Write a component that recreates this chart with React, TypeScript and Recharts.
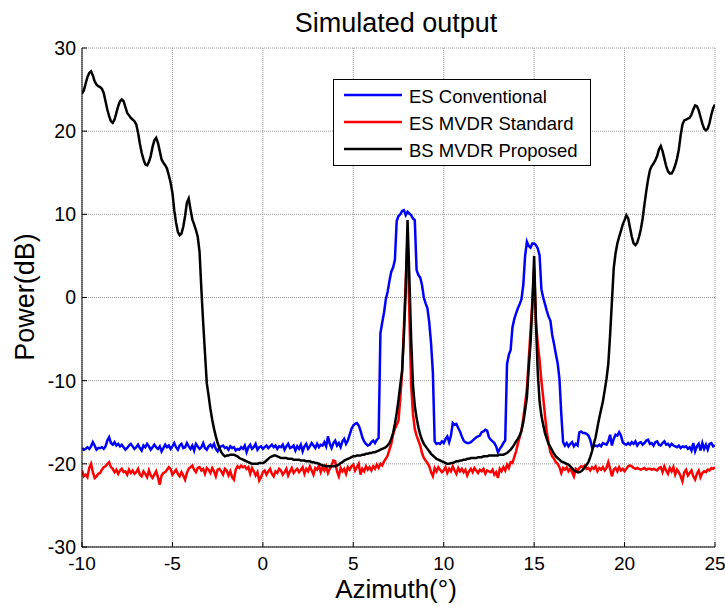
import React from 'react';
import { LineChart, Line, XAxis, YAxis, CartesianGrid, Legend } from 'recharts';

// Azimuth sampling: -10 .. 25 deg, 0.1 deg step (351 samples)
const AZ_START = -10;
const AZ_STEP = 0.1;

const xTicks = [-10, -5, 0, 5, 10, 15, 20, 25];
const yTicks = [-30, -20, -10, 0, 10, 20, 30];

const seriesNames = ['ES Conventional', 'ES MVDR Standard', 'BS MVDR Proposed'];

// ES Conventional (blue)
const esConventional = [
  -18.1, -18.3, -18.2, -18.0, -18.2, -17.9, -17.4, -17.8, -18.3, -18.1,
  -18.1, -18.0, -18.2, -17.9, -17.2, -16.8, -17.5, -17.7, -17.4, -17.8,
  -17.6, -17.9, -17.7, -18.0, -18.3, -18.1, -17.8, -17.6, -17.9, -18.2,
  -18.0, -17.7, -18.1, -18.4, -17.8, -18.0, -17.6, -17.9, -18.3, -18.0,
  -17.7, -18.0, -18.2, -17.9, -18.5, -18.1, -17.7, -18.0, -17.8, -18.2,
  -17.9, -17.5, -18.0, -18.3, -17.8, -17.6, -18.1, -18.0, -17.5, -17.9,
  -18.2, -17.8, -18.4, -17.6, -17.9, -18.2, -18.0, -17.5, -18.1, -18.3,
  -17.9, -17.7, -18.0, -17.6, -18.2, -18.5, -18.0, -17.9, -17.8, -18.1,
  -18.0, -18.3, -17.9, -18.1, -18.0, -18.4, -18.2, -18.3, -18.0, -18.2,
  -17.8, -18.6, -18.0, -17.7, -18.2, -18.0, -17.6, -18.3, -18.0, -17.9,
  -18.2, -18.0, -17.8, -18.1, -17.9, -17.7, -18.0, -17.8, -18.2, -17.9,
  -18.0, -17.7, -18.3, -17.9, -17.6, -18.1, -18.0, -17.8, -18.4, -17.9,
  -18.2, -17.7, -18.5, -17.9, -17.6, -18.2, -17.9, -17.5, -17.8, -18.1,
  -17.6, -18.0, -17.7, -17.8, -17.4, -17.9, -16.7, -17.6, -18.1, -17.5,
  -17.2, -17.8, -17.5, -18.0, -17.3, -17.0, -17.6, -17.2, -16.5, -15.8,
  -15.4, -15.2, -15.1, -15.4, -16.0, -16.8, -17.3, -17.6, -17.8, -17.7,
  -17.4, -17.2, -17.5, -17.1, -16.9, -4.3, -3.0, -1.8, -0.2, 0.7,
  2.0, 3.1, 3.6, 4.5, 9.2, 9.8, 10.0, 10.4, 10.5, 9.9,
  10.3, 10.1, 9.9, 9.5, 9.3, 3.3, 2.7, 2.4, 1.5, 0.0,
  -0.7, -1.3, -3.0, -5.5, -9.0, -17.3, -17.6, -17.5, -17.6, -17.3,
  -17.5, -17.0, -16.7, -17.4, -16.6, -15.1, -15.3, -15.2, -15.7, -16.1,
  -16.7, -17.2, -17.4, -17.5, -17.5, -17.4, -17.2, -17.0, -16.8, -16.7,
  -16.6, -16.2, -16.1, -15.9, -16.0, -16.8, -17.1, -17.3, -17.5, -17.9,
  -18.6, -18.2, -17.9, -17.5, -17.2, -8.0, -6.9, -6.3, -3.6, -2.6,
  -1.9, -1.3, -0.8, -0.2, 1.5, 5.0, 6.7, 6.2, 6.0, 6.5,
  6.5, 6.3, 5.9, 5.1, 1.0, 0.0, -0.8, -1.6, -2.3, -2.8,
  -4.5, -5.6, -6.8, -7.9, -9.8, -14.0, -17.4, -17.8, -17.5, -17.9,
  -17.6, -17.4, -17.9, -17.6, -17.8, -16.2, -16.1, -16.3, -16.3, -16.4,
  -16.6, -17.1, -18.0, -17.9, -17.8, -17.9, -17.7, -17.9, -17.5, -17.6,
  -17.7, -17.3, -16.5, -17.8, -17.0, -16.5, -16.6, -16.2, -16.6, -17.4,
  -17.6, -17.7, -17.5, -17.7, -17.4, -17.6, -17.3, -17.8, -17.5, -17.4,
  -17.7, -17.5, -17.2, -17.1, -17.6, -17.5, -17.8, -17.4, -17.3, -17.7,
  -17.8, -17.5, -17.3, -17.7, -17.6, -17.9, -17.6, -17.8, -17.9, -18.0,
  -17.8, -18.1, -17.9, -18.0, -17.9, -18.2, -18.0, -18.4, -17.5, -18.5,
  -17.9, -17.6, -18.4, -17.5, -18.2, -17.7, -18.3, -17.6, -17.5, -17.9,
  -17.8,
];

// ES MVDR Standard (red)
const esMvdrStandard = [
  -20.8, -21.5, -21.3, -21.6, -20.5, -20.0, -21.0, -21.7, -21.5, -21.2,
  -21.1, -20.7, -20.4, -20.3, -20.0, -19.8, -20.4, -20.6, -21.0, -20.7,
  -21.2, -20.8, -20.6, -21.0, -20.9, -21.3, -20.7, -21.1, -20.8, -21.2,
  -21.0, -20.6, -21.3, -21.5, -20.9, -21.2, -21.6, -20.8, -21.4, -21.7,
  -21.3, -20.9, -21.6, -22.5, -21.4, -21.1, -21.0, -20.7, -20.4, -20.6,
  -21.3, -21.0, -20.7, -21.2, -21.5, -21.0, -21.4, -21.9, -21.1, -20.6,
  -20.4, -20.2, -20.7, -21.0, -20.5, -20.4, -20.8, -20.6, -21.2, -20.5,
  -20.7, -21.1, -20.5, -20.9, -21.5, -20.7, -20.6, -20.9, -21.3, -20.6,
  -20.8, -21.4, -20.9, -21.6, -21.9, -20.7, -20.3, -20.5, -20.2, -20.4,
  -20.3, -20.6, -20.4, -21.2, -20.5, -20.9, -21.4, -21.0, -22.0, -21.6,
  -21.0, -20.8, -21.3, -20.9, -20.6, -21.2, -21.5, -20.9, -21.1, -20.6,
  -20.8, -21.3, -21.0, -20.6, -21.4, -20.9, -20.5, -21.1, -20.8, -20.6,
  -21.0, -20.7, -20.4, -21.2, -20.6, -20.9, -20.3, -20.8, -21.3, -20.5,
  -20.7, -20.2, -21.0, -20.4, -20.8, -20.3, -21.1, -20.6, -20.2, -19.6,
  -19.7, -20.9, -21.5, -20.5, -20.9, -20.6, -21.2, -20.4, -20.7, -20.3,
  -20.1, -20.8, -20.4, -20.0, -21.3, -20.6, -20.9, -20.3, -20.7, -20.4,
  -20.8, -20.3, -20.6, -20.1, -20.5, -20.0, -20.2, -19.7, -19.4, -19.0,
  -18.3, -17.6, -16.5, -15.8, -15.3, -14.8, -12.0, -9.0, -3.5, 2.0,
  7.3, -2.0, -10.5, -14.0, -15.8, -16.6, -17.2, -17.8, -18.7, -19.3,
  -19.6, -19.9, -20.3, -21.0, -21.5, -20.5, -20.9, -20.4, -20.7, -21.0,
  -20.8, -20.4, -21.1, -20.6, -20.9, -20.3, -20.8, -21.2, -20.5, -20.9,
  -20.6, -21.0, -20.7, -21.4, -20.9, -20.6, -21.0, -20.5, -20.8, -21.1,
  -20.7, -20.9, -20.6, -21.2, -20.8, -20.9, -21.0, -20.7, -21.3, -21.0,
  -21.7, -20.6, -20.9, -20.4, -20.8, -20.1, -20.5, -19.8, -19.9, -19.2,
  -18.5, -17.6, -16.8, -16.0, -14.5, -12.8, -11.0, -7.5, -4.0, -0.5,
  3.5, -3.0, -5.5, -7.5, -10.0, -12.0, -14.2, -16.2, -17.5, -18.6,
  -19.1, -19.4, -19.8, -20.0, -20.4, -21.1, -20.5, -20.7, -20.4, -20.9,
  -20.6, -21.0, -21.5, -20.6, -20.8, -20.5, -20.3, -20.4, -20.2, -20.6,
  -20.5, -20.8, -20.4, -20.6, -20.3, -20.9, -20.5, -20.7, -20.4, -20.8,
  -20.5, -19.8, -20.6, -21.5, -20.7, -20.5, -20.9, -20.4, -20.8, -20.6,
  -20.9, -20.6, -20.3, -20.2, -20.3, -20.5, -20.6, -20.5, -20.6, -20.7,
  -20.6, -20.5, -20.7, -20.6, -20.6, -20.7, -20.6, -20.7, -20.8, -20.5,
  -20.4, -21.0, -20.3, -20.8, -21.2, -20.5, -20.9, -20.4, -21.3, -20.7,
  -21.0, -21.5, -22.1, -21.0, -20.7, -21.4, -21.1, -20.8, -21.5, -21.9,
  -21.2, -20.8, -21.6, -21.1, -20.9, -21.0, -20.7, -20.8, -20.5, -20.6,
  -20.4,
];

// BS MVDR Proposed (black)
const bsMvdrProposed = [
  24.5, 24.9, 25.7, 26.5, 27.0, 27.2, 26.7, 26.0, 25.6, 25.4,
  25.3, 25.1, 24.6, 23.6, 22.6, 21.8, 21.2, 21.0, 21.4, 22.2,
  23.0, 23.6, 23.8, 23.6, 22.9, 22.2, 21.9, 21.6, 21.4, 21.2,
  20.8, 19.8, 18.5, 17.4, 16.6, 16.0, 15.9, 16.3, 17.0, 18.1,
  18.9, 19.2, 18.6, 17.6, 16.6, 16.2, 15.9, 15.5, 14.7, 13.8,
  12.6, 10.5, 9.0, 7.9, 7.5, 7.7, 8.5, 9.8, 11.4, 11.9,
  10.6, 9.4, 8.8, 8.1, 7.3, 5.5, 1.0, -3.0, -6.7, -10.3,
  -11.8, -13.4, -14.7, -15.8, -16.7, -17.5, -18.1, -18.6, -18.9, -19.1,
  -19.0, -19.0, -18.9, -18.9, -18.9, -19.0, -19.1, -19.3, -19.4, -19.5,
  -19.6, -19.7, -19.8, -19.9, -20.0, -20.0, -20.0, -20.0, -19.9, -19.9,
  -19.9, -19.8, -19.6, -19.4, -19.2, -19.1, -19.0, -19.0, -19.1, -19.2,
  -19.3, -19.3, -19.3, -19.3, -19.4, -19.4, -19.4, -19.5, -19.5, -19.5,
  -19.5, -19.6, -19.6, -19.6, -19.7, -19.7, -19.7, -19.8, -19.8, -19.9,
  -19.9, -20.0, -20.1, -20.2, -20.2, -20.3, -20.3, -20.3, -20.3, -20.3,
  -20.3, -20.2, -20.1, -19.9, -19.8, -19.6, -19.5, -19.4, -19.3, -19.2,
  -19.1, -19.1, -19.0, -19.0, -19.0, -18.9, -18.9, -18.8, -18.8, -18.7,
  -18.7, -18.6, -18.6, -18.5, -18.4, -18.3, -18.2, -18.1, -18.0, -17.8,
  -17.5, -17.0, -16.3, -15.2, -13.9, -12.3, -10.5, -8.8, -4.5, 1.0,
  9.3, 2.5, -5.0, -10.5, -13.0, -14.5, -15.6, -16.5, -17.1, -17.6,
  -17.9, -18.2, -18.5, -18.8, -19.0, -19.2, -19.4, -19.5, -19.6, -19.7,
  -19.8, -19.9, -20.0, -20.0, -19.9, -19.9, -19.8, -19.7, -19.7, -19.6,
  -19.6, -19.5, -19.5, -19.4, -19.4, -19.3, -19.3, -19.3, -19.3, -19.2,
  -19.2, -19.2, -19.1, -19.1, -19.1, -19.0, -19.0, -19.0, -19.0, -19.0,
  -19.0, -18.9, -18.9, -18.9, -18.8, -18.7, -18.5, -18.3, -18.0, -17.7,
  -17.3, -17.0, -16.6, -16.0, -15.0, -13.6, -12.0, -8.5, -5.5, -1.0,
  5.0, -3.0, -9.0, -12.5, -14.2, -15.3, -16.3, -17.0, -17.6, -18.0,
  -18.4, -18.8, -19.1, -19.3, -19.5, -19.7, -19.8, -19.9, -20.0, -20.1,
  -20.3, -20.5, -20.8, -20.9, -21.0, -21.0, -20.9, -20.7, -20.4, -20.1,
  -19.8, -19.2, -18.5, -17.6, -16.8, -15.6, -14.5, -13.5, -12.5, -11.2,
  -9.8, -8.0, -4.5, -0.5, 3.5, 5.3, 6.5, 7.3, 8.0, 8.8,
  9.3, 9.9, 9.5, 8.4, 7.3, 6.5, 6.3, 6.6, 7.3, 8.2,
  9.5, 11.2, 12.8, 14.2, 15.3, 15.8, 16.1, 16.5, 17.0, 17.8,
  18.2, 17.6, 16.7, 15.8, 15.2, 14.9, 14.9, 15.3, 15.9, 16.7,
  17.8, 19.5, 20.8, 21.3, 21.4, 21.5, 21.6, 22.0, 22.6, 23.1,
  23.0, 22.5, 21.7, 20.9, 20.3, 20.1, 20.3, 21.0, 22.0, 22.8,
  23.2,
];

const FONT = '"Liberation Sans", Arial, Helvetica, sans-serif';

const rows = esConventional.map((v, i) => ({
  az: Math.round((AZ_START + i * AZ_STEP) * 10) / 10,
  conv: v,
  std: esMvdrStandard[i],
  prop: bsMvdrProposed[i],
}));

const renderLegend = (props: any) => {
  const payload = [...(props.payload || [])].sort(
    (a: any, b: any) => seriesNames.indexOf(a.value) - seriesNames.indexOf(b.value)
  );
  return (
    <div
      style={{
        width: 258,
        height: 87,
        border: '1px solid #000',
        background: '#fff',
        boxSizing: 'border-box',
      }}
    >
      <svg width={256} height={85} style={{ display: 'block' }}>
        {payload.map((p: any, i: number) => (
          <g key={i}>
            <line x1={10} x2={68} y1={15 + i * 27} y2={15 + i * 27} stroke={p.color} strokeWidth={2.5} />
            <text x={75} y={23 + i * 27} fontSize={18.5} fontFamily={FONT} fill="#000">
              {p.value}
            </text>
          </g>
        ))}
      </svg>
    </div>
  );
};

export default function App() {
  return (
    <div style={{ position: 'absolute', left: 0, top: 0, width: 725, height: 607, background: '#fff' }}>
      <LineChart
        width={725}
        height={607}
        data={rows}
        margin={{ top: 48, right: 10, bottom: 30, left: 32 }}
      >
        <CartesianGrid
          xAxisId="b"
          yAxisId="l"
          stroke="#9a9a9a"
          strokeDasharray="1 1"
          strokeWidth={1}
        />
        <XAxis
          xAxisId="b"
          dataKey="az"
          type="number"
          domain={[-10, 25]}
          ticks={xTicks}
          interval={0}
          allowDataOverflow
          height={30}
          tickSize={-5}
          tickMargin={15}
          axisLine={{ stroke: '#000', strokeWidth: 1 }}
          tickLine={{ stroke: '#000' }}
          tick={{ fill: '#000', fontSize: 19, fontFamily: FONT }}
        />
        <XAxis
          xAxisId="t"
          orientation="top"
          dataKey="az"
          type="number"
          domain={[-10, 25]}
          ticks={xTicks}
          interval={0}
          allowDataOverflow
          height={0}
          tickSize={-5}
          tick={false}
          axisLine={{ stroke: '#000', strokeWidth: 1 }}
          tickLine={{ stroke: '#000' }}
        />
        <YAxis
          yAxisId="l"
          type="number"
          domain={[-30, 30]}
          ticks={yTicks}
          interval={0}
          allowDataOverflow
          width={50}
          tickSize={-5}
          tickMargin={11}
          axisLine={{ stroke: '#000', strokeWidth: 1 }}
          tickLine={{ stroke: '#000' }}
          tick={{ fill: '#000', fontSize: 19.5, fontFamily: FONT }}
        />
        <YAxis
          yAxisId="r"
          orientation="right"
          type="number"
          domain={[-30, 30]}
          ticks={yTicks}
          interval={0}
          allowDataOverflow
          width={0}
          tickSize={-5}
          tick={false}
          axisLine={{ stroke: '#000', strokeWidth: 1 }}
          tickLine={{ stroke: '#000' }}
        />
        <Line
          xAxisId="b"
          yAxisId="l"
          type="linear"
          dataKey="conv"
          name="ES Conventional"
          stroke="#0000ff"
          strokeWidth={2.5}
          dot={false}
          isAnimationActive={false}
        />
        <Line
          xAxisId="b"
          yAxisId="l"
          type="linear"
          dataKey="std"
          name="ES MVDR Standard"
          stroke="#ff0000"
          strokeWidth={2.5}
          dot={false}
          isAnimationActive={false}
        />
        <Line
          xAxisId="b"
          yAxisId="l"
          type="linear"
          dataKey="prop"
          name="BS MVDR Proposed"
          stroke="#000000"
          strokeWidth={2.5}
          dot={false}
          isAnimationActive={false}
        />
        <Legend
          layout="vertical"
          align="center"
          verticalAlign="middle"
          content={renderLegend}
          wrapperStyle={{ left: 333, top: 79, width: 258, height: 87 }}
        />
      </LineChart>
      <svg
        width={725}
        height={607}
        style={{ position: 'absolute', left: 0, top: 0, pointerEvents: 'none' }}
      >
        <text x={396} y={32} textAnchor="middle" fontSize={27} fontFamily={FONT} fill="#000">
          Simulated output
        </text>
        <text x={396} y={598} textAnchor="middle" fontSize={26} fontFamily={FONT} fill="#000">
          Azimuth(°)
        </text>
        <text
          x={34}
          y={297}
          textAnchor="middle"
          fontSize={27}
          fontFamily={FONT}
          fill="#000"
          transform="rotate(-90 34 297)"
        >
          Power(dB)
        </text>
      </svg>
    </div>
  );
}
